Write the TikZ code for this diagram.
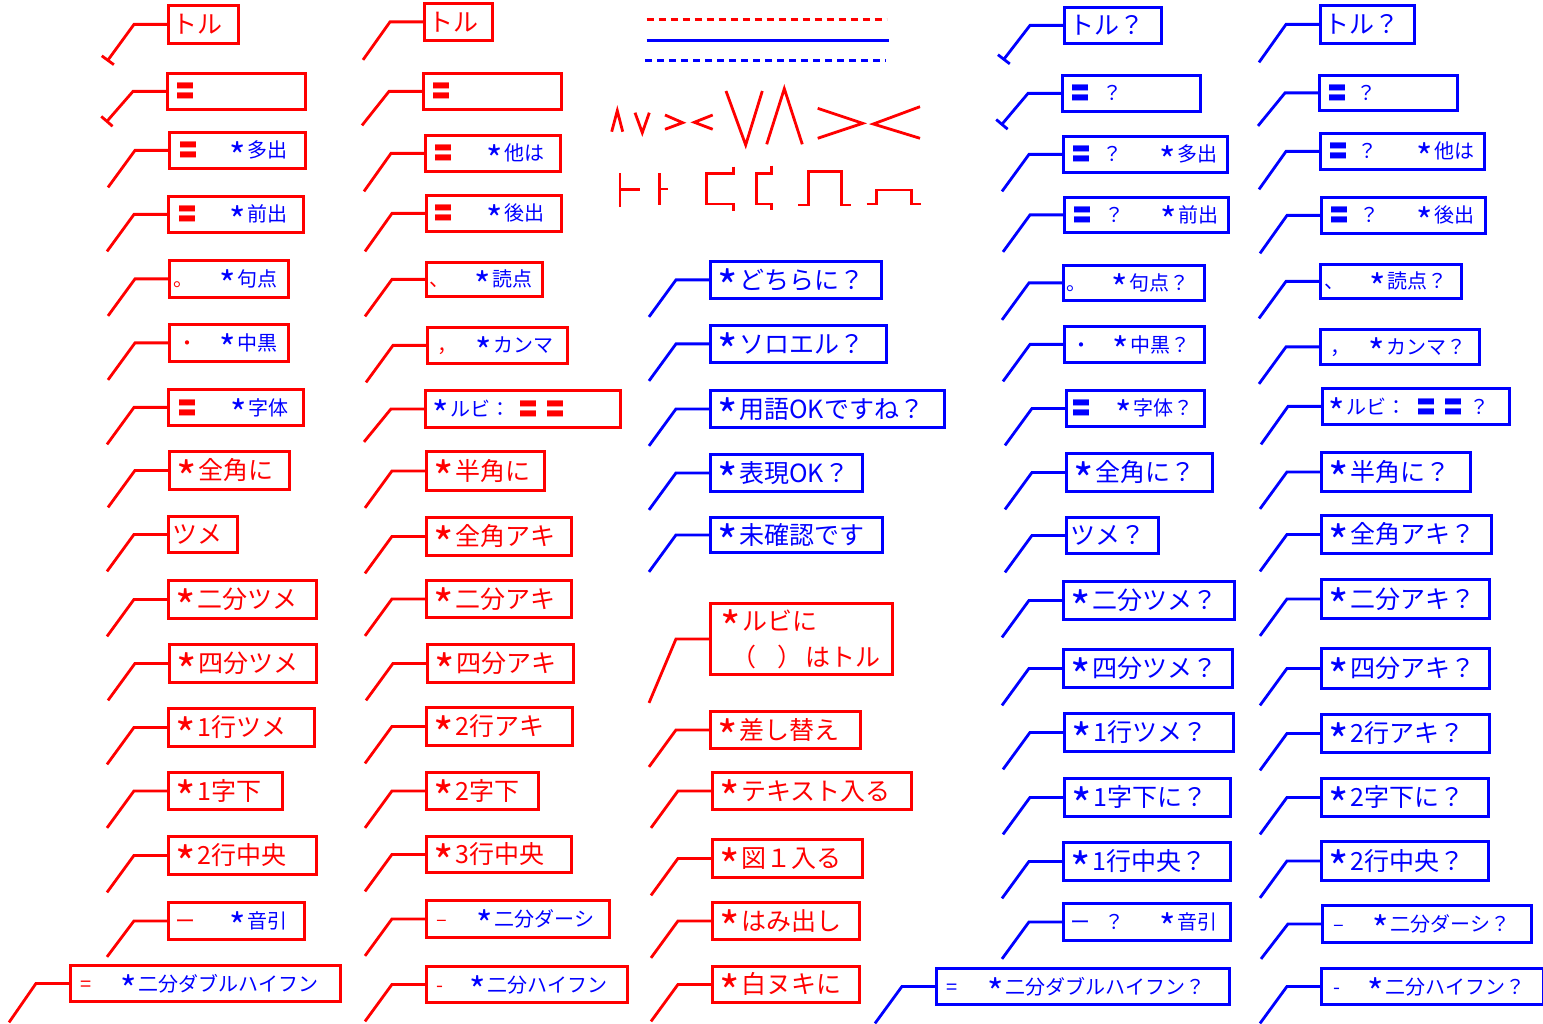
\documentclass[tikz,border=0pt]{standalone}
\usepackage{fontspec}
\usepackage{graphicx}
\setmainfont{Noto Sans CJK JP}
\usetikzlibrary{arrows.meta}
\newcommand\Lf{\fontsize{25}{32}\selectfont}
\newcommand\Sf{\fontsize{20}{24}\selectfont}
\newcommand\cst{\rule[-0.12em]{0pt}{1em}}
\newcommand\pl[2]{\rlap{\hspace*{#1pt}#2}}
\newcommand\Bl[1]{\textcolor{blue}{#1}}
\newcommand\sk{\makebox[1em][l]{\hspace*{0.12em}\smash{\raisebox{-0.57em}{\scalebox{1.75}{*}}}}}
\newcommand\callbox[9]{%
  \pgfmathsetlengthmacro\cbw{(#4)-(#2)}%
  \pgfmathsetlengthmacro\cbh{(#5)-(#3)}%
  \node[cbox, draw=#6, text=#6, minimum width=\cbw, minimum height=\cbh] (#1) at (#2,#3) {\makebox[\cbw][l]{#8}};%
  \coordinate (#1k) at ([xshift=-33pt]#1.west);%
  \coordinate (#1e) at ([xshift=-60pt,yshift=-#7pt]#1.west);%
  \draw[conn, draw=#6, #9] (#1.west) -- (#1k) -- (#1e);%
}
\begin{document}
\begin{tikzpicture}[x=1pt,y=-1pt,
  conn/.style={line width=2.8pt},
  cbox/.style={anchor=north west, line width=2.8pt, inner sep=0pt},
  sym/.style={red, line width=2.8pt},
  tk/.style={-{Bar[width=15pt]}}]
\useasboundingbox (0,0) rectangle (1543,1024);
% ---------- column 1
\callbox{a1}{167}{4}{237}{42}{red}{37}{\Lf\cst\pl{4}{トル}}{tk}
\callbox{a2}{166}{72}{304}{108}{red}{31}{\Sf\cst\pl{8}{〓}}{tk}
\callbox{a3}{168}{131}{304}{167}{red}{37}{\Sf\cst\pl{9}{〓}\pl{58}{\Bl{\sk{}多出}}}{}
\callbox{a4}{167}{195}{302}{231}{red}{37}{\Sf\cst\pl{9}{〓}\pl{59}{\Bl{\sk{}前出}}}{}
\callbox{a5}{168}{259}{287}{296}{red}{37}{\Sf\cst\pl{4}{。}\pl{48}{\Bl{\sk{}句点}}}{}
\callbox{a6}{168}{323}{287}{360}{red}{37}{\Sf\cst\pl{8}{・}\pl{48}{\Bl{\sk{}中黒}}}{}
\callbox{a7}{167}{388}{302}{424}{red}{37}{\Sf\cst\pl{9}{〓}\pl{60}{\Bl{\sk{}字体}}}{}
\callbox{a8}{168}{450}{288}{488}{red}{37}{\Lf\cst\pl{4}{\sk{}全角に}}{}
\callbox{a9}{167}{515}{236}{551}{red}{37}{\Lf\cst\pl{4}{ツメ}}{}
\callbox{a10}{167}{579}{315}{617}{red}{37}{\Lf\cst\pl{4}{\sk{}二分ツメ}}{}
\callbox{a11}{168}{643}{315}{681}{red}{37}{\Lf\cst\pl{4}{\sk{}四分ツメ}}{}
\callbox{a12}{167}{707}{313}{745}{red}{37}{\Lf\cst\pl{4}{\sk{}1行ツメ}}{}
\callbox{a13}{167}{771}{281}{808}{red}{37}{\Lf\cst\pl{4}{\sk{}1字下}}{}
\callbox{a14}{167}{835}{315}{873}{red}{37}{\Lf\cst\pl{4}{\sk{}2行中央}}{}
\callbox{a15}{167}{901}{303}{938}{red}{36}{\Sf\cst\pl{7}{ー}\pl{59}{\Bl{\sk{}音引}}}{}
\callbox{a16}{69}{964}{339}{1000}{red}{39}{\Sf\cst\pl{10}{=}\pl{48}{\Bl{\sk{}二分ダブルハイフン}}}{}
% ---------- column 2
\callbox{b1}{423}{2}{491}{39}{red}{38}{\Lf\cst\pl{4}{トル}}{}
\callbox{b2}{422}{72}{560}{108}{red}{34}{\Sf\cst\pl{8}{〓}}{}
\callbox{b3}{424}{134}{559}{170}{red}{38}{\Sf\cst\pl{8}{〓}\pl{59}{\Bl{\sk{}他は}}}{}
\callbox{b4}{425}{194}{560}{230}{red}{38}{\Sf\cst\pl{7}{〓}\pl{58}{\Bl{\sk{}後出}}}{}
\callbox{b5}{425}{261}{541}{295}{red}{37}{\Sf\cst\pl{3}{、}\pl{46}{\Bl{\sk{}読点}}}{}
\callbox{b6}{426}{326}{566}{362}{red}{37}{\Sf\cst\pl{10}{，}\pl{46}{\Bl{\sk{}カンマ}}}{}
\callbox{b7}{424}{389}{619}{426}{red}{33}{\Sf\cst\pl{5}{\Bl{\sk{}ルビ：}}\pl{93}{〓}\pl{120}{〓}}{}
\callbox{b8}{425}{450}{543}{489}{red}{37}{\Lf\cst\pl{4}{\sk{}半角に}}{}
\callbox{b9}{425}{516}{570}{554}{red}{37}{\Lf\cst\pl{4}{\sk{}全角アキ}}{}
\callbox{b10}{425}{579}{570}{616}{red}{37}{\Lf\cst\pl{4}{\sk{}二分アキ}}{}
\callbox{b11}{426}{643}{572}{681}{red}{37}{\Lf\cst\pl{4}{\sk{}四分アキ}}{}
\callbox{b12}{425}{706}{571}{744}{red}{37}{\Lf\cst\pl{4}{\sk{}2行アキ}}{}
\callbox{b13}{425}{771}{537}{808}{red}{37}{\Lf\cst\pl{4}{\sk{}2字下}}{}
\callbox{b14}{425}{835}{570}{871}{red}{37}{\Lf\cst\pl{4}{\sk{}3行中央}}{}
\callbox{b15}{425}{899}{608}{936}{red}{37}{\Sf\cst\pl{10}{–}\pl{48}{\Bl{\sk{}二分ダーシ}}}{}
\callbox{b16}{425}{965}{626}{1001}{red}{37}{\Sf\cst\pl{10}{-}\pl{41}{\Bl{\sk{}二分ハイフン}}}{}
% ---------- middle column
\draw[red, line width=2.8pt, dash pattern=on 7pt off 5pt] (646.7,19.3) -- (886.7,19.3);
\draw[blue, line width=2.8pt] (646.7,40.7) -- (889,40.7);
\draw[blue, line width=2.8pt, dash pattern=on 7pt off 5pt] (645,60.3) -- (885.7,60.3);
\draw[sym] (611.7,131.7) -- (617.3,110.7) -- (622.7,131.7);
\draw[sym] (635,112.7) -- (642.3,132.7) -- (649.3,112.7);
\draw[sym] (665,115) -- (682.7,122.7) -- (665,129.3);
\draw[sym] (712.7,115) -- (694.3,122.3) -- (712.7,129.3);
\draw[sym] (726,91) -- (745.7,145) -- (762.3,91);
\draw[sym] (766.7,144.3) -- (784.3,88.7) -- (802.3,144.3);
\draw[sym] (817.7,108.3) -- (862.7,123.3) -- (817.7,138.3);
\draw[sym] (920,106.7) -- (873.3,124) -- (920,138.3);
\draw[sym] (620,173.3) -- (620,206.7) (620,189.3) -- (640,189.3);
\draw[sym] (659.3,173.3) -- (659.3,205) (659.3,189) -- (668.3,189);
\draw[sym] (733.3,166.7) -- (733.3,173.3) -- (706.7,173.3) -- (706.7,204) -- (733.3,204) -- (733.3,210.7);
\draw[sym] (771.7,165.7) -- (771.7,173.3) -- (756.7,173.3) -- (756.7,204) -- (771.7,204) -- (771.7,210);
\draw[sym] (798.3,205) -- (808.3,205) -- (808.3,171.7) -- (841.7,171.7) -- (841.7,205) -- (850.7,205);
\draw[sym] (866.7,204) -- (876.7,204) -- (876.7,190) -- (911.7,190) -- (911.7,204) -- (920.7,204);
\callbox{c1}{709}{260}{880}{297}{blue}{37}{\Lf\cst\pl{4}{\sk{}どちらに？}}{}
\callbox{c2}{709}{324}{885}{361}{blue}{37}{\Lf\cst\pl{4}{\sk{}ソロエル？}}{}
\callbox{c3}{709}{389}{943}{426}{blue}{37}{\Lf\cst\pl{4}{\sk{}用語OKですね？}}{}
\callbox{c4}{709}{453}{861}{490}{blue}{37}{\Lf\cst\pl{4}{\sk{}表現OK？}}{}
\callbox{c5}{709}{516}{881}{551}{blue}{37}{\Lf\cst\pl{4}{\sk{}未確認です}}{}
\callbox{c6}{709}{602}{891}{673}{red}{64}{\Lf\parbox{\cbw}{\cst\pl{7}{\sk{}ルビに}\\[4pt]\cst\pl{21}{（}\pl{67}{）}\pl{95}{はトル}}}{}
\callbox{c7}{709}{710}{859}{747}{red}{37}{\Lf\cst\pl{4}{\sk{}差し替え}}{}
\callbox{c8}{711}{771}{910}{808}{red}{37}{\Lf\cst\pl{4}{\sk{}テキスト入る}}{}
\callbox{c9}{711}{838}{861}{876}{red}{37}{\Lf\cst\pl{4}{\sk{}図１入る}}{}
\callbox{c10}{711}{901}{858}{938}{red}{37}{\Lf\cst\pl{4}{\sk{}はみ出し}}{}
\callbox{c11}{711}{965}{858}{1001}{red}{37}{\Lf\cst\pl{4}{\sk{}白ヌキに}}{}
% ---------- column 4
\callbox{d1}{1063}{6}{1160}{42}{blue}{35}{\Lf\cst\pl{5}{トル？}}{tk}
\callbox{d2}{1061}{74}{1199}{110}{blue}{32}{\Sf\cst\pl{8}{〓}\pl{40}{？}}{tk}
\callbox{d3}{1062}{135}{1226}{171}{blue}{37}{\Sf\cst\pl{8}{〓}\pl{39}{？}\pl{94}{\sk{}多出}}{}
\callbox{d4}{1063}{196}{1227}{231}{blue}{37}{\Sf\cst\pl{8}{〓}\pl{40}{？}\pl{94}{\sk{}前出}}{}
\callbox{d5}{1062}{264}{1203}{299}{blue}{37}{\Sf\cst\pl{3}{。}\pl{46}{\sk{}句点？}}{}
\callbox{d6}{1063}{325}{1203}{361}{blue}{37}{\Sf\cst\pl{7}{・}\pl{46}{\sk{}中黒？}}{}
\callbox{d7}{1065}{389}{1203}{425}{blue}{37}{\Sf\cst\pl{5}{〓}\pl{47}{\sk{}字体？}}{}
\callbox{d8}{1065}{452}{1211}{490}{blue}{37}{\Lf\cst\pl{4}{\sk{}全角に？}}{}
\callbox{d9}{1065}{516}{1157}{552}{blue}{37}{\Lf\cst\pl{4}{ツメ？}}{}
\callbox{d10}{1062}{580}{1233}{618}{blue}{37}{\Lf\cst\pl{4}{\sk{}二分ツメ？}}{}
\callbox{d11}{1062}{648}{1231}{686}{blue}{37}{\Lf\cst\pl{4}{\sk{}四分ツメ？}}{}
\callbox{d12}{1063}{712}{1232}{750}{blue}{37}{\Lf\cst\pl{4}{\sk{}1行ツメ？}}{}
\callbox{d13}{1063}{777}{1229}{815}{blue}{37}{\Lf\cst\pl{4}{\sk{}1字下に？}}{}
\callbox{d14}{1062}{841}{1229}{879}{blue}{37}{\Lf\cst\pl{4}{\sk{}1行中央？}}{}
\callbox{d15}{1062}{902}{1229}{939}{blue}{37}{\Sf\cst\pl{7}{ー}\pl{41}{？}\pl{94}{\sk{}音引}}{}
\callbox{d16}{935}{967}{1228}{1003}{blue}{37}{\Sf\cst\pl{10}{=}\pl{49}{\sk{}二分ダブルハイフン？}}{}
% ---------- column 5
\callbox{e1}{1319}{4}{1413}{42}{blue}{38}{\Lf\cst\pl{4}{トル？}}{}
\callbox{e2}{1318}{74}{1456}{109}{blue}{33}{\Sf\cst\pl{8}{〓}\pl{37}{？}}{}
\callbox{e3}{1319}{132}{1483}{168}{blue}{38}{\Sf\cst\pl{8}{〓}\pl{37}{？}\pl{94}{\sk{}他は}}{}
\callbox{e4}{1320}{196}{1484}{232}{blue}{38}{\Sf\cst\pl{8}{〓}\pl{38}{？}\pl{93}{\sk{}後出}}{}
\callbox{e5}{1319}{263}{1460}{297}{blue}{37}{\Sf\cst\pl{4}{、}\pl{47}{\sk{}読点？}}{}
\callbox{e6}{1319}{328}{1478}{363}{blue}{37}{\Sf\cst\pl{10}{，}\pl{46}{\sk{}カンマ？}}{}
\callbox{e7}{1321}{387}{1508}{423}{blue}{38}{\Sf\cst\pl{4}{\sk{}ルビ：}\pl{94}{〓}\pl{121}{〓}\pl{147}{？}}{}
\callbox{e8}{1320}{451}{1469}{490}{blue}{37}{\Lf\cst\pl{4}{\sk{}半角に？}}{}
\callbox{e9}{1320}{514}{1490}{552}{blue}{37}{\Lf\cst\pl{4}{\sk{}全角アキ？}}{}
\callbox{e10}{1320}{578}{1488}{617}{blue}{37}{\Lf\cst\pl{4}{\sk{}二分アキ？}}{}
\callbox{e11}{1320}{647}{1488}{687}{blue}{37}{\Lf\cst\pl{4}{\sk{}四分アキ？}}{}
\callbox{e12}{1320}{713}{1488}{751}{blue}{37}{\Lf\cst\pl{4}{\sk{}2行アキ？}}{}
\callbox{e13}{1320}{777}{1487}{815}{blue}{37}{\Lf\cst\pl{4}{\sk{}2字下に？}}{}
\callbox{e14}{1320}{840}{1487}{879}{blue}{37}{\Lf\cst\pl{4}{\sk{}2行中央？}}{}
\callbox{e15}{1321}{904}{1530}{941}{blue}{35}{\Sf\cst\pl{11}{–}\pl{48}{\sk{}二分ダーシ？}}{}
\callbox{e16}{1320}{967}{1542}{1003}{blue}{37}{\Sf\cst\pl{12}{-}\pl{44}{\sk{}二分ハイフン？}}{}
\end{tikzpicture}
\end{document}
